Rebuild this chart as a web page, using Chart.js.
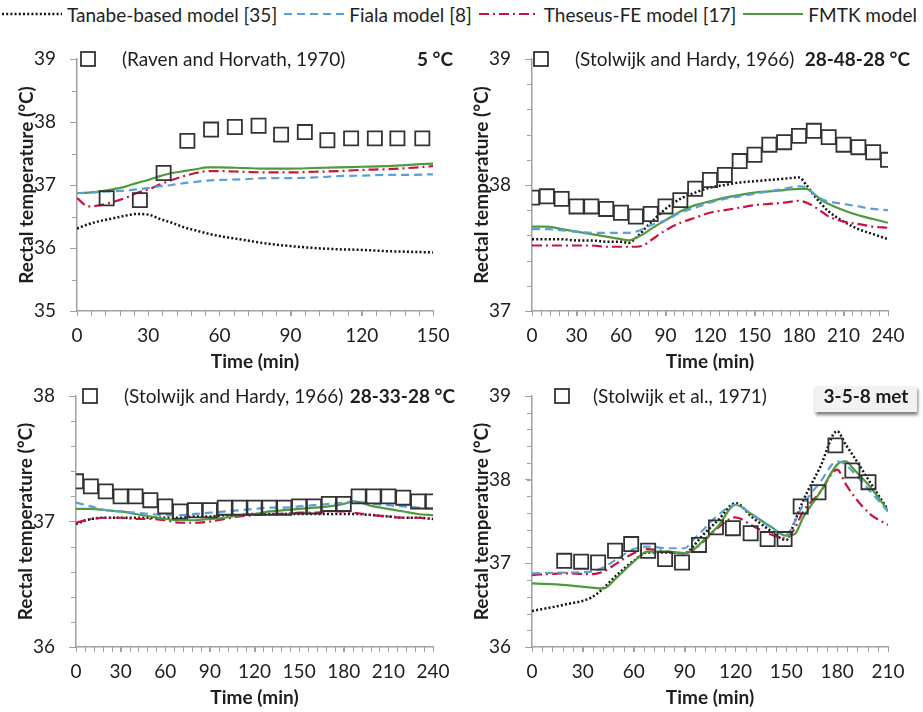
<!DOCTYPE html>
<html><head><meta charset="utf-8">
<script src="https://cdn.jsdelivr.net/npm/chart.js@4.4.1/dist/chart.umd.min.js"></script>
<style>
html,body{margin:0;padding:0;background:#fff}
body{width:923px;height:712px;position:relative;overflow:hidden;font-family:Lato,"Open Sans",sans-serif;color:#222}
canvas.pane{position:absolute;left:0;top:0}
#legend{position:absolute;left:1px;top:2px;height:24px;display:flex;align-items:center;font-size:19px;white-space:nowrap}
#legend svg{margin-right:4px}
#legend span{margin-right:6px}
</style></head><body>
<div id="legend"></div>
<canvas class="pane" id="c1" width="923" height="712"></canvas>
<canvas class="pane" id="c2" width="923" height="712"></canvas>
<canvas class="pane" id="c3" width="923" height="712"></canvas>
<canvas class="pane" id="c4" width="923" height="712"></canvas>
<script>
// ---------- series names ----------
const seriesNames = ["Tanabe-based model [35]", "Fiala model [8]", "Theseus-FE model [17]", "FMTK model"];
const xTitle = "Time (min)";
const yTitle = "Rectal temperature (°C)";
const sources = ["(Raven and Horvath, 1970)", "(Stolwijk and Hardy, 1966)", "(Stolwijk and Hardy, 1966)", "(Stolwijk et al., 1971)"];
const conditions = ["5 °C", "28-48-28 °C", "28-33-28 °C", "3-5-8 met"];

// ---------- panel 1 : 5 °C ----------
const t1 = [0,5,10,15,20,25,30,35,40,45,50,55,60,70,80,90,100,110,120,130,140,150];
const tanabe1 = [36.31,36.38,36.43,36.47,36.51,36.54,36.53,36.46,36.40,36.33,36.28,36.23,36.19,36.13,36.07,36.03,36.00,35.98,35.97,35.95,35.94,35.93];
const fiala1  = [36.87,36.88,36.89,36.90,36.91,36.93,36.95,36.98,37.00,37.03,37.05,37.07,37.08,37.09,37.11,37.11,37.12,37.14,37.15,37.16,37.16,37.17];
const theseus1= [36.79,36.66,36.68,36.73,36.79,36.87,36.93,37.01,37.08,37.14,37.19,37.22,37.22,37.21,37.20,37.20,37.21,37.22,37.24,37.25,37.27,37.30];
const fmtk1   = [36.87,36.88,36.90,36.93,36.97,37.03,37.08,37.14,37.19,37.22,37.25,37.28,37.28,37.27,37.26,37.26,37.27,37.28,37.29,37.30,37.32,37.34];
const expT1 = [12.5,26.5,36.5,46.5,56.5,66.5,76.5,86,96,105.5,115.5,125.5,135,145.5];
const expV1 = [36.79,36.76,37.19,37.70,37.88,37.92,37.94,37.80,37.84,37.71,37.74,37.74,37.74,37.74];

// ---------- panel 2 : 28-48-28 °C ----------
const t2 = [0,10,20,30,40,50,60,65,70,75,80,90,100,110,120,130,140,150,160,170,180,185,190,195,200,210,220,230,240];
const tanabe2 = [37.57,37.57,37.57,37.56,37.56,37.55,37.55,37.54,37.58,37.64,37.70,37.81,37.89,37.94,37.98,38.00,38.02,38.03,38.04,38.05,38.06,38.00,37.92,37.85,37.79,37.71,37.65,37.61,37.57];
const fiala2  = [37.65,37.65,37.64,37.63,37.62,37.62,37.62,37.62,37.63,37.65,37.68,37.72,37.78,37.82,37.86,37.89,37.91,37.93,37.95,37.97,37.99,37.98,37.93,37.89,37.87,37.85,37.83,37.81,37.80];
const theseus2= [37.52,37.52,37.52,37.52,37.52,37.51,37.51,37.51,37.51,37.52,37.56,37.64,37.70,37.74,37.78,37.80,37.82,37.84,37.85,37.86,37.875,37.86,37.83,37.79,37.75,37.71,37.69,37.67,37.66];
const fmtk2   = [37.67,37.67,37.65,37.63,37.61,37.59,37.57,37.56,37.58,37.61,37.65,37.72,37.79,37.84,37.87,37.90,37.92,37.94,37.95,37.96,37.97,37.97,37.93,37.88,37.85,37.80,37.76,37.73,37.70];
const expT2 = [0,10,20,30,40,50,60,70,80,90,100,110,120,130,140,150,160,170,180,190,200,210,220,230,240];
const expV2 = [37.90,37.91,37.89,37.83,37.83,37.81,37.78,37.75,37.77,37.83,37.88,37.97,38.04,38.08,38.19,38.24,38.32,38.34,38.39,38.43,38.38,38.32,38.30,38.26,38.20];

// ---------- panel 3 : 28-33-28 °C ----------
const t3 = [0,10,20,30,40,50,60,70,80,90,100,110,120,130,140,150,160,170,180,187,200,210,220,230,240];
const tanabe3 = [36.98,37.02,37.03,37.03,37.03,37.03,37.03,37.03,37.04,37.04,37.05,37.05,37.06,37.06,37.06,37.06,37.06,37.06,37.06,37.06,37.05,37.04,37.03,37.03,37.02];
const fiala3  = [37.15,37.12,37.09,37.08,37.07,37.06,37.05,37.05,37.06,37.07,37.08,37.09,37.10,37.11,37.11,37.12,37.13,37.14,37.15,37.16,37.14,37.13,37.12,37.11,37.10];
const theseus3= [36.99,37.02,37.03,37.03,37.02,37.02,37.01,36.99,36.99,37.00,37.02,37.04,37.05,37.06,37.06,37.07,37.07,37.08,37.08,37.07,37.05,37.04,37.03,37.03,37.02];
const fmtk3   = [37.10,37.10,37.09,37.08,37.06,37.04,37.02,37.01,37.01,37.02,37.03,37.05,37.06,37.08,37.09,37.10,37.11,37.12,37.14,37.16,37.12,37.10,37.08,37.06,37.05];
const expT3 = [0,10,20,30,40,50,60,70,80,90,100,110,120,130,140,150,160,170,180,190,200,210,220,230,240];
const expV3 = [37.32,37.28,37.24,37.20,37.20,37.17,37.12,37.08,37.09,37.09,37.11,37.11,37.11,37.11,37.11,37.12,37.12,37.14,37.14,37.20,37.20,37.20,37.19,37.16,37.16];

// ---------- panel 4 : 3-5-8 met ----------
const t4 = [0,20,35,42,50,60,68,80,90,95,100,110,120,130,140,150,155,160,170,180,185,190,200,210];
const tanabe4 = [36.43,36.51,36.59,36.70,36.86,37.03,37.13,37.13,37.12,37.20,37.32,37.52,37.72,37.55,37.40,37.28,37.50,37.75,38.15,38.58,38.42,38.27,37.95,37.64];
const fiala4  = [36.88,36.89,36.90,36.95,37.05,37.17,37.20,37.18,37.18,37.28,37.38,37.58,37.70,37.58,37.44,37.34,37.50,37.70,37.97,38.22,38.18,38.08,37.85,37.62];
const theseus4= [36.86,36.88,36.87,36.90,37.00,37.12,37.17,37.14,37.12,37.16,37.24,37.43,37.55,37.45,37.35,37.30,37.42,37.62,37.85,38.12,37.95,37.80,37.58,37.46];
const fmtk4   = [36.76,36.74,36.71,36.70,36.83,37.02,37.14,37.14,37.12,37.16,37.25,37.45,37.70,37.58,37.45,37.33,37.35,37.55,37.85,38.18,38.22,38.12,37.90,37.63];
const expT4 = [19,29,39,49,58.5,68.5,78.5,88.5,98.5,108.5,118.5,129,139,149,158.5,169,179,189,198.5];
const expV4 = [37.03,37.02,37.01,37.15,37.23,37.15,37.05,37.01,37.22,37.43,37.42,37.36,37.29,37.29,37.68,37.85,38.41,38.11,37.97];

// ---------- axis ranges ----------
const xMaxes = [150, 240, 240, 210];
const yMins = [35, 37, 36, 36];
const yMaxs = [39, 39, 38, 39];

// ---------- styles ----------
const STY = [
  {color:'#111111', dash:[2,2.2], width:2.5},
  {color:'#5a9fd8', dash:[8,5], width:2.2},
  {color:'#c8143f', dash:[10,4,2,4], width:2.2},
  {color:'#4f9a3c', dash:[], width:2.2}
];
const AXIS = '#a0a0a0';
const TXT = '#1e1e1e';
Chart.defaults.font.family = 'Lato, "Open Sans", sans-serif';
Chart.defaults.font.size = 19;
Chart.defaults.color = TXT;

// legend
(function(){
  const lg = document.getElementById('legend');
  seriesNames.forEach((n,i)=>{
    const s = STY[i];
    const ns='http://www.w3.org/2000/svg';
    const svg=document.createElementNS(ns,'svg'); svg.setAttribute('width','62'); svg.setAttribute('height','6');
    const ln=document.createElementNS(ns,'line');
    ln.setAttribute('x1','1');ln.setAttribute('x2','61');ln.setAttribute('y1','3');ln.setAttribute('y2','3');
    ln.setAttribute('stroke',s.color);ln.setAttribute('stroke-width',s.width);
    if(s.dash.length) ln.setAttribute('stroke-dasharray',s.dash.join(' '));
    svg.appendChild(ln); lg.appendChild(svg);
    const sp=document.createElement('span'); sp.textContent=n; lg.appendChild(sp);
  });
})();

const xy = (ts, vs) => ts.map((t,i)=>({x:t, y:vs[i]}));

const annotPlugin = {
  id:'annot',
  afterDraw(chart, args, o){
    const ctx = chart.ctx, a = chart.chartArea, xs = chart.scales.x, ys = chart.scales.y;
    ctx.save();
    // minor ticks
    ctx.strokeStyle = AXIS; ctx.lineWidth = 1;
    ctx.beginPath();
    for (let v = xs.min; v <= xs.max + 1e-6; v += o.xMinor){
      const px = Math.round(xs.getPixelForValue(v)) + 0.5;
      ctx.moveTo(px, a.bottom); ctx.lineTo(px, a.bottom + 5);
    }
    for (let v = ys.min; v <= ys.max + 1e-6; v += o.yMinor){
      const py = Math.round(ys.getPixelForValue(v)) + 0.5;
      ctx.moveTo(a.left - 5, py); ctx.lineTo(a.left, py);
    }
    ctx.stroke();
    // legend-like marker + source
    const y0 = a.top;
    ctx.strokeStyle = '#333'; ctx.lineWidth = 1.8;
    ctx.strokeRect(a.left + o.sq - 7, y0 - 7, 14, 14);
    ctx.fillStyle = TXT; ctx.textBaseline = 'middle';
    ctx.font = '19px Lato, "Open Sans", sans-serif'; ctx.textAlign = 'left';
    ctx.fillText(o.source, a.left + o.tx, y0 + 1);
    ctx.font = 'bold 19px Lato, "Open Sans", sans-serif';
    if (o.box){
      const bx = a.right + o.box[0], by = y0 + o.box[1], bw = o.box[2], bh = o.box[3];
      ctx.save();
      ctx.shadowColor = 'rgba(0,0,0,0.5)'; ctx.shadowOffsetY = 3; ctx.shadowOffsetX = 1; ctx.shadowBlur = 3;
      ctx.fillStyle = '#f2f2f2'; ctx.fillRect(bx, by, bw, bh);
      ctx.restore();
      ctx.fillStyle = TXT; ctx.textAlign = 'center';
      ctx.fillText(o.cond, bx + bw/2, y0 + 1);
    } else {
      ctx.textAlign = 'right';
      ctx.fillText(o.cond, a.right + o.cr, y0 + 1);
    }
    ctx.restore();
  }
};

function makePanel(id, k, area, ts, series, expT, expV, yMinor, ann){
  const YW = 62, XH = 62;
  const ds = [{
    data: xy(expT, expV), showLine:false, pointStyle:'rect', pointRadius:10,
    pointBorderWidth:1.8, pointBorderColor:'#333', pointBackgroundColor:'rgba(255,255,255,0)', borderColor:'#333', order:0
  }];
  const ord = [3,0,2,1]; // draw order index
  series.forEach((vals,i)=>{
    ds.push({data: xy(ts, vals), borderColor:STY[i].color, borderWidth:STY[i].width, borderDash:STY[i].dash,
      pointRadius:0, cubicInterpolationMode:'monotone', fill:false, order:1+ord[i], borderCapStyle:'butt'});
  });
  return new Chart(document.getElementById(id), {
    type:'line',
    data:{datasets:ds},
    options:{
      responsive:false, animation:false, events:[],
      layout:{padding:{left:area[0]-YW, top:area[1], right:923-area[2], bottom:712-area[3]-XH}},
      plugins:{legend:{display:false}, tooltip:{enabled:false}, annot:Object.assign({xMinor:6, yMinor:yMinor, source:sources[k], cond:conditions[k]}, ann)},
      scales:{
        x:{type:'linear', min:0, max:xMaxes[k],
          ticks:{stepSize:30, padding:8, color:TXT, maxRotation:0, autoSkip:false},
          grid:{drawOnChartArea:false, drawTicks:true, tickLength:5, color:AXIS},
          border:{color:AXIS, width:1.5},
          title:{display:true, text:xTitle, font:{size:19, weight:'bold'}, color:TXT, padding:0},
          afterFit(s){ s.height = XH; }},
        y:{type:'linear', min:yMins[k], max:yMaxs[k],
          ticks:{stepSize:1, padding:14, color:TXT},
          grid:{drawOnChartArea:false, drawTicks:true, tickLength:7, color:AXIS},
          border:{color:AXIS, width:1.5},
          title:{display:true, text:yTitle, font:{size:19, weight:'bold'}, color:TXT, padding:0},
          afterFit(s){ s.width = YW; }}
      }
    },
    plugins:[annotPlugin]
  });
}

makePanel('c1', 0, [77,59,433,311], t1, [tanabe1,fiala1,theseus1,fmtk1], expT1, expV1, 0.5, {sq:11, tx:45, cr:20});
makePanel('c2', 1, [532,59,888,311], t2, [tanabe2,fiala2,theseus2,fmtk2], expT2, expV2, 0.2, {sq:9, tx:43, cr:22});
makePanel('c3', 2, [76,396,433,647], t3, [tanabe3,fiala3,theseus3,fmtk3], expT3, expV3, 0.2, {sq:14, tx:48, cr:22});
makePanel('c4', 3, [532,396,888,647], t4, [tanabe4,fiala4,theseus4,fmtk4], expT4, expV4, 0.2, {sq:30, tx:61, box:[-73,-10,102,26]});
</script>
</body></html>
